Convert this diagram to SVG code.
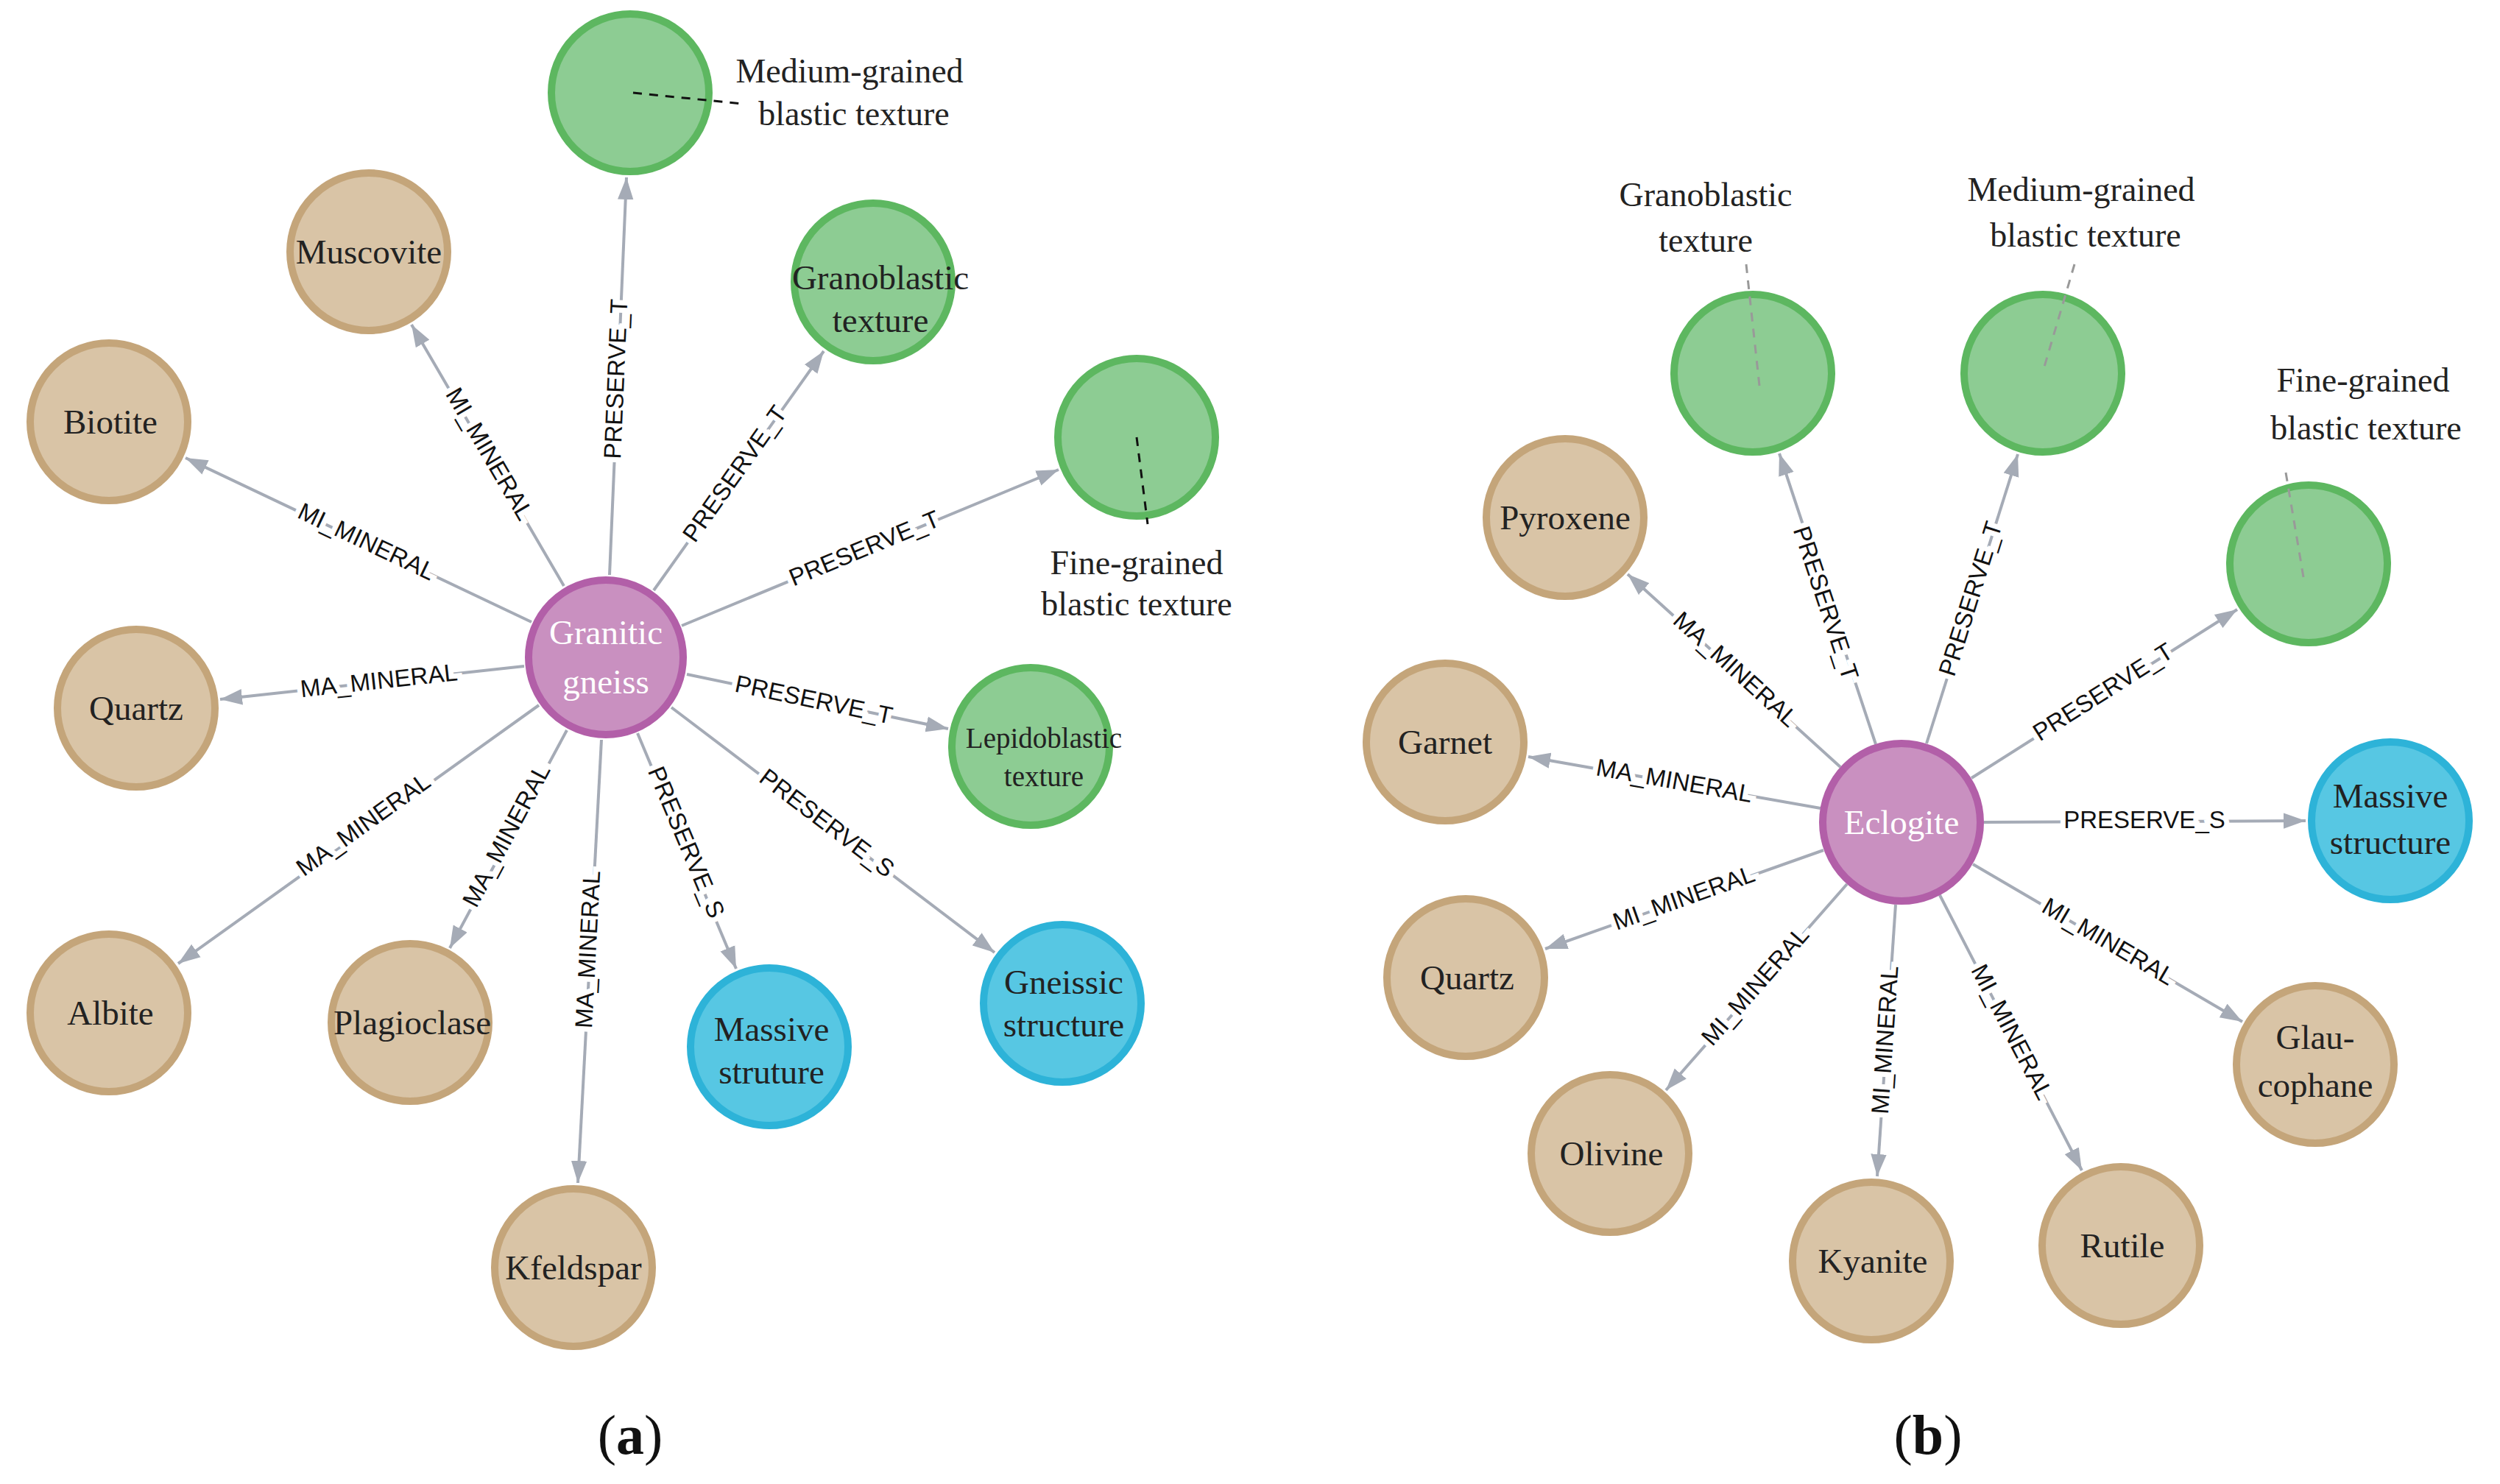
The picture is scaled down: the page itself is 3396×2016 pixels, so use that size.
<svg xmlns="http://www.w3.org/2000/svg" width="3396" height="2016" viewBox="0 0 3396 2016">
<style>
.n circle{stroke-width:10}
.br circle{fill:#d9c4a6;stroke:#c4a57a}
.gr circle{fill:#8dcc93;stroke:#5db760}
.bl circle{fill:#57c7e3;stroke:#2db3d8}
.pu circle{fill:#c990c0;stroke:#b25fa8}
.n text{font-family:"Liberation Serif",serif;font-size:47px;fill:#222;text-anchor:middle}
.pu text{fill:#fff}
.edges line{stroke:#a5abb6;stroke-width:4;marker-end:url(#ah)}
.el{font-family:"Liberation Sans",Arial,sans-serif;font-size:33px;fill:#111;text-anchor:middle;dominant-baseline:middle;stroke:#fff;stroke-width:14;paint-order:stroke}
.ext{font-family:"Liberation Serif",serif;font-size:46px;fill:#222;text-anchor:middle}
.lead{stroke-width:3;stroke-dasharray:12 10;fill:none}
.cap{font-family:"Liberation Serif",serif;font-size:76px;fill:#111;text-anchor:middle}
</style>
<defs>
<marker id="ah" viewBox="0 0 14 10" refX="14" refY="5" markerWidth="30" markerHeight="22" markerUnits="userSpaceOnUse" orient="auto"><path d="M0,0 L14,5 L0,10 z" fill="#a5abb6"/></marker>
</defs>
<rect width="3396" height="2016" fill="#fff"/>
<g class="edges" id="edges">
<line x1="828" y1="781" x2="851" y2="241"/>
<line x1="766" y1="796" x2="559" y2="441"/>
<line x1="888" y1="802" x2="1119" y2="477"/>
<line x1="926" y1="850" x2="1438" y2="638"/>
<line x1="722" y1="845" x2="252" y2="622"/>
<line x1="712" y1="905" x2="299" y2="950"/>
<line x1="933" y1="916" x2="1288" y2="990"/>
<line x1="732" y1="958" x2="242" y2="1309"/>
<line x1="770" y1="992" x2="611" y2="1288"/>
<line x1="817" y1="1005" x2="785" y2="1607"/>
<line x1="866" y1="996" x2="1000" y2="1316"/>
<line x1="912" y1="961" x2="1351" y2="1294"/>
<text class="el" transform="translate(839,515) rotate(-87.5)">PRESERVE_T</text>
<text class="el" transform="translate(663,618) rotate(59.7)">MI_MINERAL</text>
<text class="el" transform="translate(1000,645) rotate(-54.6)">PRESERVE_T</text>
<text class="el" transform="translate(1175,747) rotate(-22.5)">PRESERVE_T</text>
<text class="el" transform="translate(497,738) rotate(25.4)">MI_MINERAL</text>
<text class="el" transform="translate(515,927) rotate(-6.2)">MA_MINERAL</text>
<text class="el" transform="translate(1105,953) rotate(11.8)">PRESERVE_T</text>
<text class="el" transform="translate(495,1122) rotate(-35.6)">MA_MINERAL</text>
<text class="el" transform="translate(690,1136) rotate(-61.8)">MA_MINERAL</text>
<text class="el" transform="translate(801,1290) rotate(-87)">MA_MINERAL</text>
<text class="el" transform="translate(930,1145) rotate(67.2)">PRESERVE_S</text>
<text class="el" transform="translate(1122,1120) rotate(37.2)">PRESERVE_S</text>
<g transform="translate(-12,0)">
<line x1="2560" y1="1011" x2="2429" y2="616"/>
<line x1="2629" y1="1010" x2="2753" y2="617"/>
<line x1="2690" y1="1057" x2="3051" y2="828"/>
<line x1="2512" y1="1042" x2="2223" y2="780"/>
<line x1="2485" y1="1098" x2="2088" y2="1028"/>
<line x1="2707" y1="1117" x2="3144" y2="1115"/>
<line x1="2489" y1="1155" x2="2111" y2="1289"/>
<line x1="2692" y1="1174" x2="3058" y2="1388"/>
<line x1="2521" y1="1201" x2="2275" y2="1481"/>
<line x1="2587" y1="1229" x2="2562" y2="1598"/>
<line x1="2647" y1="1216" x2="2840" y2="1590"/>
<text class="el" transform="translate(2490,820) rotate(71.7)">PRESERVE_T</text>
<text class="el" transform="translate(2691,814) rotate(-72.5)">PRESERVE_T</text>
<text class="el" transform="translate(2870,942) rotate(-32.4)">PRESERVE_T</text>
<text class="el" transform="translate(2368,911) rotate(42.2)">MA_MINERAL</text>
<text class="el" transform="translate(2286,1063) rotate(10)">MA_MINERAL</text>
<text class="el" transform="translate(2925,1116)">PRESERVE_S</text>
<text class="el" transform="translate(2300,1222) rotate(-19.6)">MI_MINERAL</text>
<text class="el" transform="translate(2875,1281) rotate(30.3)">MI_MINERAL</text>
<text class="el" transform="translate(2398,1341) rotate(-48.7)">MI_MINERAL</text>
<text class="el" transform="translate(2575,1413) rotate(-86.1)">MI_MINERAL</text>
<text class="el" transform="translate(2743,1403) rotate(62.6)">MI_MINERAL</text>
</g>
</g>
<g id="gneiss" class="n pu"><circle cx="823" cy="893" r="105"/><text x="823" y="875">Granitic</text><text x="823" y="942">gneiss</text></g>
<g id="medium-a" class="n gr"><circle cx="856" cy="126" r="107"/></g>
<g id="muscovite" class="n br"><circle cx="501" cy="342" r="107"/><text x="501" y="358">Muscovite</text></g>
<g id="granoblastic-a" class="n gr"><circle cx="1186" cy="383" r="107"/><text x="1196" y="393">Granoblastic</text><text x="1196" y="451">texture</text></g>
<g id="fine-a" class="n gr"><circle cx="1544" cy="594" r="107"/></g>
<g id="biotite" class="n br"><circle cx="148" cy="573" r="107"/><text x="150" y="589">Biotite</text></g>
<g id="quartz-a" class="n br"><circle cx="185" cy="962" r="107"/><text x="185" y="978">Quartz</text></g>
<g id="lepido" class="n gr"><circle cx="1400" cy="1014" r="107"/><text x="1418" y="1016" style="font-size:39px">Lepidoblastic</text><text x="1418" y="1068" style="font-size:39px">texture</text></g>
<g id="albite" class="n br"><circle cx="148" cy="1376" r="107"/><text x="150" y="1392">Albite</text></g>
<g id="plagioclase" class="n br"><circle cx="557" cy="1389" r="107"/><text x="560" y="1405">Plagioclase</text></g>
<g id="massive-a" class="n bl"><circle cx="1045" cy="1422" r="107"/><text x="1048" y="1414">Massive</text><text x="1048" y="1472">struture</text></g>
<g id="gneissic" class="n bl"><circle cx="1443" cy="1363" r="107"/><text x="1445" y="1350">Gneissic</text><text x="1445" y="1408">structure</text></g>
<g id="kfeldspar" class="n br"><circle cx="779" cy="1722" r="107"/><text x="779" y="1738">Kfeldspar</text></g>
<g transform="translate(-12,0)">
<g id="eclogite" class="n pu"><circle cx="2595" cy="1117" r="107"/><text x="2595" y="1133">Eclogite</text></g>
<g id="granoblastic-b" class="n gr"><circle cx="2393" cy="507" r="107"/></g>
<g id="medium-b" class="n gr"><circle cx="2787" cy="507" r="107"/></g>
<g id="fine-b" class="n gr"><circle cx="3148" cy="766" r="107"/></g>
<g id="pyroxene" class="n br"><circle cx="2138" cy="703" r="107"/><text x="2138" y="719">Pyroxene</text></g>
<g id="garnet" class="n br"><circle cx="1975" cy="1008" r="107"/><text x="1975" y="1024">Garnet</text></g>
<g id="massive-b" class="n bl"><circle cx="3259" cy="1115" r="107"/><text x="3259" y="1097">Massive</text><text x="3259" y="1160">structure</text></g>
<g id="quartz-b" class="n br"><circle cx="2003" cy="1328" r="107"/><text x="2005" y="1344">Quartz</text></g>
<g id="glaucophane" class="n br"><circle cx="3157" cy="1446" r="107"/><text x="3157" y="1425">Glau-</text><text x="3157" y="1490">cophane</text></g>
<g id="olivine" class="n br"><circle cx="2199" cy="1567" r="107"/><text x="2201" y="1583">Olivine</text></g>
<g id="kyanite" class="n br"><circle cx="2554" cy="1713" r="107"/><text x="2556" y="1729">Kyanite</text></g>
<g id="rutile" class="n br"><circle cx="2893" cy="1692" r="107"/><text x="2895" y="1708">Rutile</text></g>
</g>
<g id="annotations">
<path class="lead" stroke="#111" d="M860,126 L1008,141"/>
<text class="ext" x="1154" y="112">Medium-grained</text><text class="ext" x="1160" y="170">blastic texture</text>
<path class="lead" stroke="#111" d="M1544,594 L1559,712"/>
<text class="ext" x="1544" y="780">Fine-grained</text><text class="ext" x="1544" y="836">blastic texture</text>
<g transform="translate(-12,0)">
<path class="lead" stroke="#999" d="M2384,359 L2403,533"/>
<text class="ext" x="2329" y="280">Granoblastic</text><text class="ext" x="2329" y="342">texture</text>
<path class="lead" stroke="#999" d="M2830,359 L2787,505"/>
<text class="ext" x="2839" y="273">Medium-grained</text><text class="ext" x="2845" y="335">blastic texture</text>
<path class="lead" stroke="#999" d="M3117,642 L3141,784"/>
<text class="ext" x="3222" y="532">Fine-grained</text><text class="ext" x="3226" y="597">blastic texture</text>
</g>
<text class="cap" x="856" y="1975">(<tspan font-weight="bold">a</tspan>)</text>
<text class="cap" x="2619" y="1975">(<tspan font-weight="bold">b</tspan>)</text>
</g>
</svg>
